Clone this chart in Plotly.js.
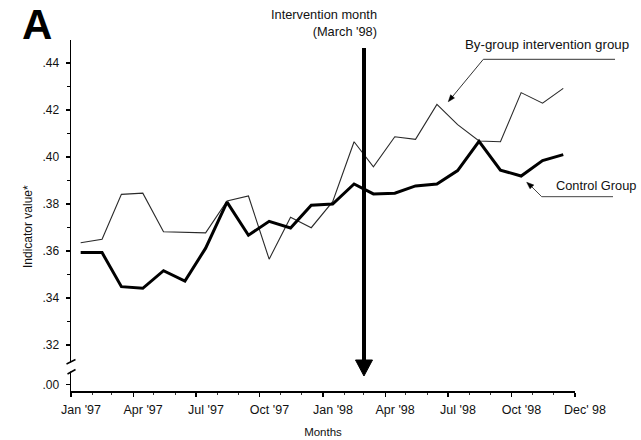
<!DOCTYPE html>
<html>
<head>
<meta charset="utf-8">
<script src="https://cdn.plot.ly/plotly-3.0.1.min.js"></script>
<style>
  html, body { margin: 0; padding: 0; background: #fff; }
  #chart { width: 641px; height: 440px; }
</style>
</head>
<body>
<div id="chart"></div>
<script>
// Monthly indicator values, January 1997 to December 1998 (plotted mid-month)
const months = [
  '1997-01-15', '1997-02-15', '1997-03-15', '1997-04-15', '1997-05-15', '1997-06-15',
  '1997-07-15', '1997-08-15', '1997-09-15', '1997-10-15', '1997-11-15', '1997-12-15',
  '1998-01-15', '1998-02-15', '1998-03-15', '1998-04-15', '1998-05-15', '1998-06-15',
  '1998-07-15', '1998-08-15', '1998-09-15', '1998-10-15', '1998-11-15', '1998-12-15'
];
const byGroup = [
  0.3635, 0.3650, 0.3841, 0.3846, 0.3682, 0.3680,
  0.3677, 0.3813, 0.3834, 0.3565, 0.3744, 0.3699,
  0.3810, 0.4065, 0.3958, 0.4086, 0.4075, 0.4224,
  0.4138, 0.4068, 0.4065, 0.4274, 0.4229, 0.4292
];
const control = [
  0.3593, 0.3593, 0.3448, 0.3441, 0.3516, 0.3472,
  0.3612, 0.3808, 0.3667, 0.3726, 0.3698, 0.3795,
  0.3800, 0.3885, 0.3843, 0.3846, 0.3877, 0.3885,
  0.3942, 0.4067, 0.3944, 0.3919, 0.3985, 0.4010
];

// Axis ticks
const xTickVals = ['1997-01-01', '1997-04-01', '1997-07-01', '1997-10-01', '1998-01-01',
                   '1998-04-01', '1998-07-01', '1998-10-01', '1999-01-01'];
const xTickText = ["Jan '97", "Apr '97", "Jul '97", "Oct '97", "Jan '98",
                   "Apr '98", "Jul '98", "Oct '98", "Dec' 98"];
const yTickVals = [0.303, 0.32, 0.34, 0.36, 0.38, 0.40, 0.42, 0.44];
const yTickText = ['.00', '.32', '.34', '.36', '.38', '.40', '.42', '.44'];
const yMinorVals = [0.33, 0.35, 0.37, 0.39, 0.41, 0.43];
const xRange = ['1997-01-01', '1999-01-01'];
const yRange = [0.3004, 0.4498];

// Figure geometry (pixels)
const W = 641, H = 440;
const M = { l: 71, r: 66, t: 40, b: 49 };
const PW = W - M.l - M.r, PH = H - M.t - M.b;
const px = v => (v - M.l) / PW;          // pixel x -> paper x
const py = v => (H - M.b - v) / PH;      // pixel y -> paper y
const pathOf = pts => pts.map((p, i) => (i ? 'L' : 'M') + px(p[0]).toFixed(4) + ',' + py(p[1]).toFixed(4)).join(' ');

const FONT = 'Liberation Sans, Arial, sans-serif';

const traces = [
  {
    x: months, y: byGroup, type: 'scatter', mode: 'lines',
    name: 'By-group intervention group',
    line: { color: '#2a2a2a', width: 1.1 }
  },
  {
    x: months, y: control, type: 'scatter', mode: 'lines',
    name: 'Control Group',
    line: { color: '#000', width: 3 }
  }
];

const shapes = [
  // broken y axis: hide a short piece of the axis line and draw the two break marks
  { type: 'rect', xref: 'paper', yref: 'paper', layer: 'above',
    x0: px(68.5), x1: px(74), y0: py(371.5), y1: py(362.5),
    fillcolor: '#fff', line: { width: 0 } },
  { type: 'line', xref: 'paper', yref: 'paper', layer: 'above',
    x0: px(66.5), y0: py(364), x1: px(75.5), y1: py(359.5), line: { color: '#000', width: 1.5 } },
  { type: 'line', xref: 'paper', yref: 'paper', layer: 'above',
    x0: px(67.5), y0: py(374), x1: px(75.5), y1: py(369.5), line: { color: '#000', width: 1.5 } },

  // intervention month arrow
  { type: 'line', xref: 'paper', yref: 'paper', layer: 'above',
    x0: px(364), y0: py(48), x1: px(364), y1: py(362), line: { color: '#000', width: 4 } },
  { type: 'path', xref: 'paper', yref: 'paper', layer: 'above',
    path: pathOf([[355.5, 360], [372.5, 360], [364, 376]]) + ' Z',
    fillcolor: '#000', line: { color: '#000', width: 1 } },

  // leader for the by-group label
  { type: 'path', xref: 'paper', yref: 'paper', layer: 'above',
    path: pathOf([[615, 59.3], [483.3, 59.3], [450.5, 99]]),
    line: { color: '#333', width: 1 } },
  { type: 'path', xref: 'paper', yref: 'paper', layer: 'above',
    path: pathOf([[448.3, 101.7], [454.5, 98], [450.6, 94.8]]) + ' Z',
    fillcolor: '#000', line: { color: '#000', width: 0.5 } },

  // leader for the control label
  { type: 'path', xref: 'paper', yref: 'paper', layer: 'above',
    path: pathOf([[613, 196.7], [541.7, 196.7], [529, 184]]),
    line: { color: '#444', width: 1 } },
  { type: 'path', xref: 'paper', yref: 'paper', layer: 'above',
    path: pathOf([[526.7, 182.3], [533.8, 185], [530, 188.8]]) + ' Z',
    fillcolor: '#000', line: { color: '#000', width: 0.5 } }
];

const annotations = [
  { text: '<b>A</b>', xref: 'paper', yref: 'paper', x: px(20), y: py(25),
    xanchor: 'left', yanchor: 'middle', showarrow: false,
    font: { family: FONT, size: 42, color: '#000' } },
  { text: "Intervention month<br>(March '98)", xref: 'paper', yref: 'paper',
    x: px(379), y: py(23), xanchor: 'right', yanchor: 'middle', align: 'right',
    showarrow: false, font: { family: FONT, size: 12.8, color: '#111' } },
  { text: 'By-group intervention group', xref: 'paper', yref: 'paper',
    x: px(546.5), y: py(45), xanchor: 'center', yanchor: 'middle',
    showarrow: false, font: { family: FONT, size: 13.3, color: '#111' } },
  { text: 'Control Group', xref: 'paper', yref: 'paper',
    x: px(596), y: py(185), xanchor: 'center', yanchor: 'middle',
    showarrow: false, font: { family: FONT, size: 12.8, color: '#111' } },
  { text: 'Indicator value*', xref: 'paper', yref: 'paper', textangle: -90,
    x: px(28), y: py(227), xanchor: 'center', yanchor: 'middle',
    showarrow: false, font: { family: FONT, size: 12, color: '#111' } }
];

const layout = {
  width: W, height: H,
  margin: M,
  paper_bgcolor: '#fff', plot_bgcolor: '#fff',
  showlegend: false,
  font: { family: FONT, size: 12, color: '#111' },
  xaxis: {
    type: 'date', range: xRange, fixedrange: true,
    tickmode: 'array', tickvals: xTickVals, ticktext: xTickText,
    ticks: 'outside', ticklen: 4, tickwidth: 1.2, tickcolor: '#000',
    ticklabelshift: 10, ticklabelstandoff: 2,
    minor: { tickmode: 'linear', tick0: '1997-01-01', dtick: 'M1',
             ticks: 'outside', ticklen: 2, tickwidth: 1, tickcolor: '#333', showgrid: false },
    showline: true, linecolor: '#000', linewidth: 1.5,
    showgrid: false, zeroline: false,
    tickfont: { family: FONT, size: 12.5, color: '#111' },
    title: { text: 'Months', standoff: 12, font: { family: FONT, size: 11.5, color: '#111' } }
  },
  yaxis: {
    range: yRange, fixedrange: true,
    tickmode: 'array', tickvals: yTickVals, ticktext: yTickText,
    ticks: 'outside', ticklen: 4, tickwidth: 1.2, tickcolor: '#000',
    ticklabelstandoff: 4,
    minor: { tickmode: 'array', tickvals: yMinorVals,
             ticks: 'outside', ticklen: 3, tickwidth: 1, tickcolor: '#000', showgrid: false },
    showline: true, linecolor: '#000', linewidth: 1.5,
    showgrid: false, zeroline: false,
    tickfont: { family: FONT, size: 12, color: '#111' }
  },
  // companion axes carrying the inner half of the crossing major ticks
  xaxis2: {
    overlaying: 'x', anchor: 'y', type: 'date', range: xRange, fixedrange: true,
    tickmode: 'array', tickvals: xTickVals,
    ticks: 'inside', ticklen: 4, tickwidth: 1.2, tickcolor: '#000',
    showticklabels: false, showline: false, showgrid: false, zeroline: false
  },
  yaxis2: {
    overlaying: 'y', anchor: 'x', range: yRange, fixedrange: true,
    tickmode: 'array', tickvals: yTickVals.slice(1),
    ticks: 'inside', ticklen: 4, tickwidth: 1.2, tickcolor: '#000',
    showticklabels: false, showline: false, showgrid: false, zeroline: false
  },
  shapes: shapes,
  annotations: annotations
};

Plotly.newPlot('chart', traces, layout, { displayModeBar: false, staticPlot: true });
</script>
</body>
</html>
